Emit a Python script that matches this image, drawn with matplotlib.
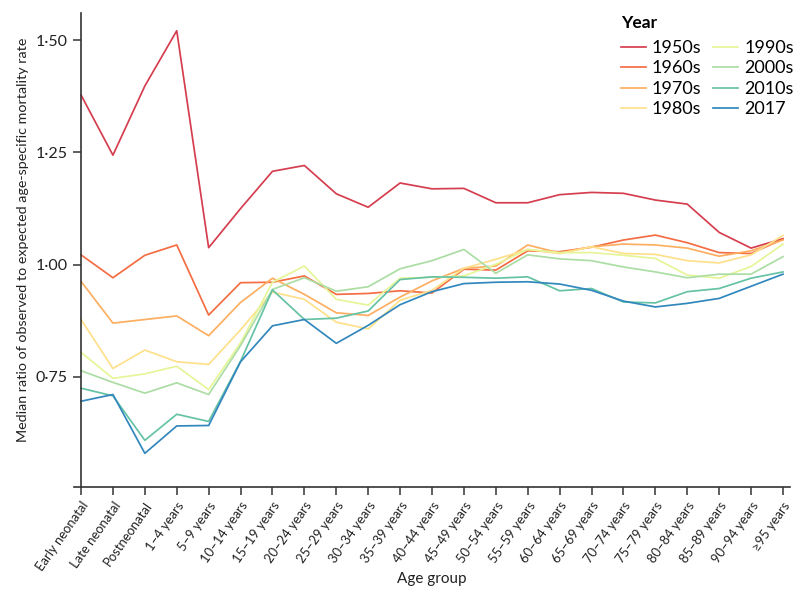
import matplotlib
matplotlib.use("Agg")
import matplotlib.pyplot as plt
from matplotlib.ticker import FuncFormatter

plt.rcParams['font.family'] = ['Lato', 'DejaVu Sans']

age_groups = ["Early neonatal", "Late neonatal", "Postneonatal", "1–4 years", "5–9 years",
              "10–14 years", "15–19 years", "20–24 years", "25–29 years", "30–34 years",
              "35–39 years", "40–44 years", "45–49 years", "50–54 years", "55–59 years",
              "60–64 years", "65–69 years", "70–74 years", "75–79 years", "80–84 years",
              "85–89 years", "90–94 years", "≥95 years"]

series_names = ["1950s", "1960s", "1970s", "1980s", "1990s", "2000s", "2010s", "2017"]

v1950s = [1.378, 1.244, 1.398, 1.521, 1.038, 1.125, 1.208, 1.221, 1.158, 1.128, 1.182, 1.169,
          1.170, 1.138, 1.138, 1.156, 1.161, 1.159, 1.144, 1.135, 1.072, 1.037, 1.058]
v1960s = [1.022, 0.971, 1.021, 1.044, 0.888, 0.960, 0.961, 0.975, 0.934, 0.936, 0.942, 0.937,
          0.990, 0.988, 1.031, 1.029, 1.039, 1.055, 1.066, 1.049, 1.027, 1.025, 1.057]
v1970s = [0.963, 0.870, 0.878, 0.886, 0.842, 0.916, 0.970, 0.934, 0.893, 0.887, 0.928, 0.964,
          0.992, 0.997, 1.044, 1.026, 1.040, 1.046, 1.044, 1.037, 1.019, 1.031, 1.055]
v1980s = [0.878, 0.769, 0.810, 0.784, 0.778, 0.855, 0.939, 0.923, 0.872, 0.857, 0.921, 0.943,
          0.992, 1.012, 1.034, 1.025, 1.040, 1.025, 1.023, 1.009, 1.004, 1.022, 1.065]
v1990s = [0.805, 0.747, 0.757, 0.774, 0.722, 0.826, 0.961, 0.997, 0.923, 0.910, 0.970, 0.972,
          0.975, 1.001, 1.034, 1.027, 1.027, 1.021, 1.014, 0.977, 0.970, 0.996, 1.046]
v2000s = [0.764, 0.738, 0.714, 0.737, 0.711, 0.820, 0.945, 0.971, 0.941, 0.951, 0.991, 1.009,
          1.034, 0.981, 1.022, 1.013, 1.009, 0.995, 0.984, 0.971, 0.979, 0.979, 1.018]
v2010s = [0.725, 0.708, 0.609, 0.667, 0.651, 0.785, 0.944, 0.878, 0.881, 0.897, 0.967, 0.973,
          0.972, 0.970, 0.973, 0.942, 0.947, 0.917, 0.915, 0.940, 0.947, 0.970, 0.984]
v2017 = [0.696, 0.711, 0.580, 0.641, 0.642, 0.784, 0.864, 0.878, 0.825, 0.865, 0.911, 0.940,
         0.958, 0.961, 0.962, 0.957, 0.943, 0.919, 0.906, 0.914, 0.925, 0.952, 0.979]

all_series = [v1950s, v1960s, v1970s, v1980s, v1990s, v2000s, v2010s, v2017]
colors = ["#d53e4f", "#f46d43", "#fdae61", "#fee08b", "#e6f598", "#abdda4", "#66c2a5", "#3288bd"]

yticks = [0.75, 1.00, 1.25, 1.50]

fig = plt.figure(figsize=(8, 6.02), dpi=100)
ax = fig.add_axes([0.0925, 0.191, 0.895, 0.787])

x = list(range(len(age_groups)))
for name, vals, c in zip(series_names, all_series, colors):
    ax.plot(x, vals, color=c, lw=1.25, label=name)

ax.set_xlim(-0.22, len(age_groups) - 1 + 0.22)
ax.set_ylim(0.505, 1.56)
ax.spines['left'].set_position(('data', 0))
ax.spines['top'].set_visible(False)
ax.spines['right'].set_visible(False)
for s in ['left', 'bottom']:
    ax.spines[s].set_color('#333333')
    ax.spines[s].set_linewidth(1.2)

ax.set_yticks(yticks)
ax.yaxis.set_major_formatter(FuncFormatter(lambda v, p: f"{v:.2f}".replace('.', '·')))
ax.set_xticks(x)
ax.set_xticklabels(age_groups, rotation=55, ha='right', rotation_mode='anchor', fontsize=9.4)
ax.tick_params(axis='both', direction='out', length=6, width=1.1, color='#333333',
               labelcolor='#222222')
ax.tick_params(axis='x', pad=3)
ax.tick_params(axis='y', labelsize=11.5)

ax.set_ylabel("Median ratio of observed to expected age-specific mortality rate",
              fontsize=10.3, color='#222222')
ax.yaxis.set_label_coords(-0.063, 0.521)
ax.set_xlabel("Age group", fontsize=11, color='#222222')
ax.xaxis.set_label_coords(0.5, -0.18)

leg = ax.legend(ncol=2, loc='upper left', bbox_to_anchor=(0.767, 0.987),
                bbox_transform=fig.transFigure, frameon=False, title="Year",
                fontsize=13, handlelength=1.39, handletextpad=0.33, columnspacing=0.65,
                labelspacing=0.25, borderaxespad=0)
leg.get_title().set_fontweight('bold')
leg.get_title().set_fontsize(12.5)
leg._legend_box.align = 'left'
leg._legend_box.sep = 6.4

fig.savefig("out.png", dpi=100)
